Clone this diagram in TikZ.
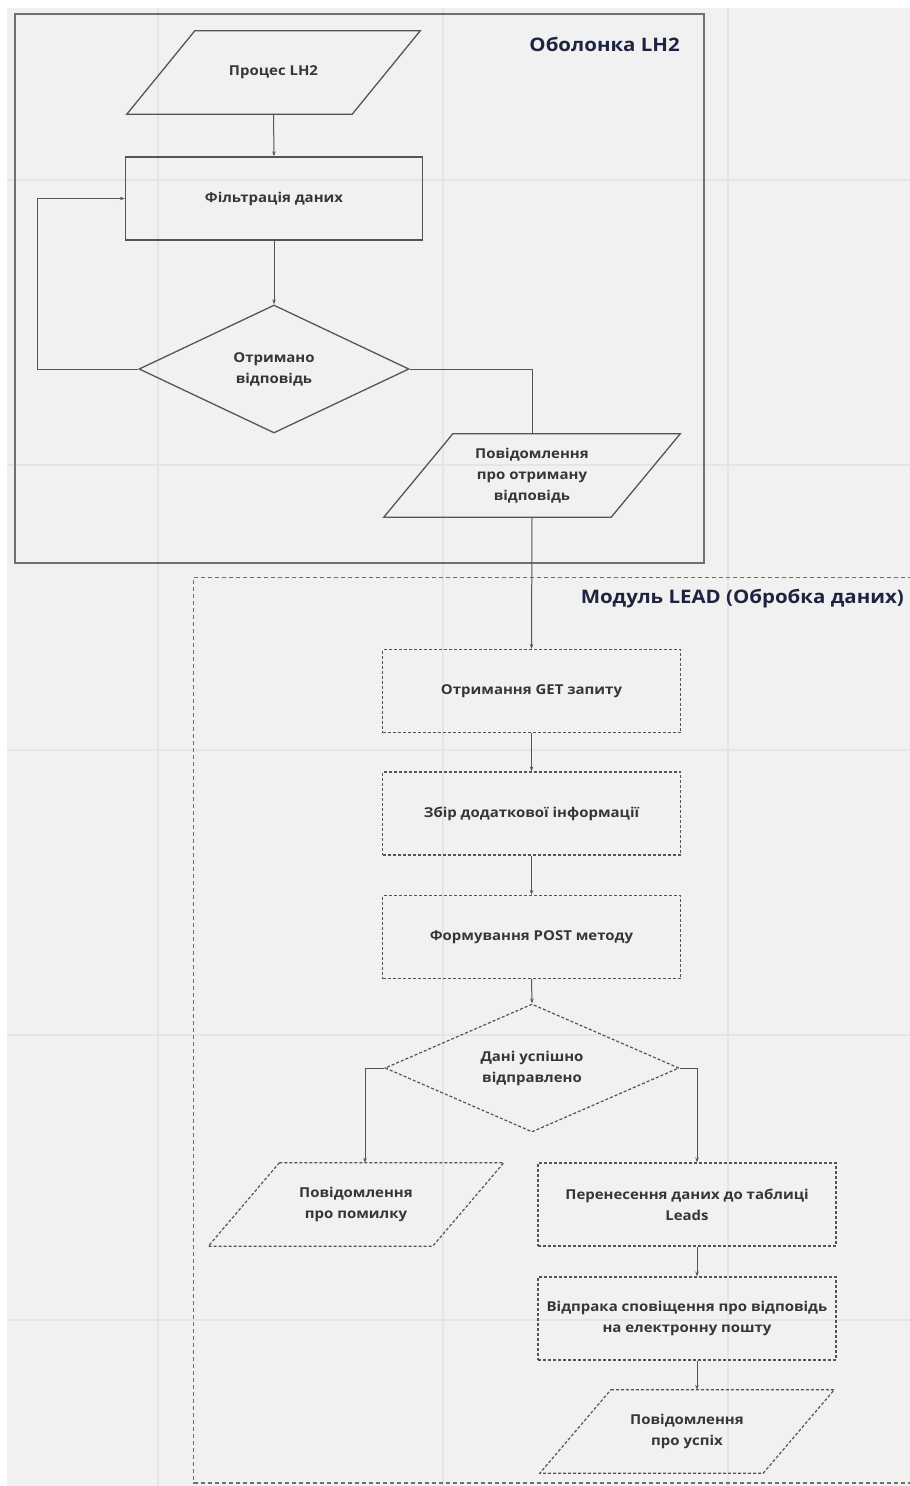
\documentclass[tikz,border=0pt]{standalone}
\usepackage{fontspec}
\setmainfont{Open Sans}[FakeStretch=1.1]
\usetikzlibrary{arrows.meta,calc,shapes.geometric}

\definecolor{pagebg}{HTML}{F1F1F1}
\definecolor{gridln}{HTML}{E5E5E5}
\definecolor{edge}{HTML}{555555}
\definecolor{frame}{HTML}{707070}
\definecolor{label}{HTML}{363636}
\definecolor{heading}{HTML}{1E2440}

\tikzset{
  txt/.style={font=\bfseries\fontsize{13.6}{21}\selectfont, text=label, align=center, inner sep=0pt},
  plainbox/.style={txt, draw=edge, line width=1.3pt, minimum width=298pt, minimum height=83pt},
  dashbox/.style={txt, draw=edge, line width=1.2pt, dash pattern=on 3pt off 2pt, minimum width=298pt, minimum height=83pt},
  ghost/.style={txt, minimum height=83pt},
  decision/.style={diamond, aspect=2.3, inner sep=0pt, minimum height=128pt, txt},
  solidline/.style={draw=edge, line width=1.3pt},
  dashline/.style={draw=edge, line width=1.2pt, dash pattern=on 3pt off 2pt},
  flow/.style={draw=edge, line width=1pt, -{Stealth[length=5pt,width=3.5pt]}},
  link/.style={draw=edge, line width=1pt},
  title/.style={font=\bfseries\fontsize{18.6}{23}\selectfont, text=heading, inner sep=0pt},
}

% parallelogram around a ghost node: #1 node, #2 horizontal shift, #3 line style
\newcommand{\slantbox}[3]{%
  \draw[#3] ($(#1.north west)+(#2,0)$) -- ($(#1.north east)+(#2,0)$)
    -- ($(#1.south east)+(-#2,0)$) -- ($(#1.south west)+(-#2,0)$) -- cycle;}

\begin{document}
\begin{tikzpicture}[x=1pt, y=-1pt]
\useasboundingbox (0,0) rectangle (910,1486);
\fill[white] (0,0) rectangle (910,1486);
\fill[pagebg] (7,8) rectangle (910,1486);

% background grid
\foreach \gx in {158,443,728} \draw[gridln, line width=1.2pt] (\gx,8) -- (\gx,1486);
\foreach \gy in {180,465,750,1035,1320} \draw[gridln, line width=1.2pt] (7,\gy) -- (910,\gy);

% LH2 shell
\draw[frame, line width=2.4pt] (15,14) rectangle (704,563);
\node[title, anchor=east] (shellT) at (680,44) {Оболонка LH2};

\node[ghost, minimum width=225pt] (proc) at (273.5,72.5) {Процес LH2};
\slantbox{proc}{34}{solidline}
\node[plainbox, minimum width=297pt] (filt) at (274,198.5) {Фільтрація даних};
\node[decision, draw=edge, line width=1.3pt, minimum width=270pt] (got) at (274,369) {Отримано\\відповідь};
\node[ghost, minimum width=227pt] (resp) at (532,475.5) {Повідомлення\\про отриману\\відповідь};
\slantbox{resp}{34.5}{solidline}

\coordinate (loopx) at (37,0);
\draw[flow] (proc.south) -- (filt.north);
\draw[flow] (filt.south) -- (got.north);
\draw[flow] (got.west) -- (got.west -| loopx) |- (filt.west);
\draw[link] (got.east) -| (resp.north);

% LEAD module
\draw[frame, line width=1.8pt, dash pattern=on 4pt off 3pt] (912,577.5) -- (193.5,577.5) -- (193.5,1483) -- (912,1483);
\node[title, anchor=east] (leadT) at (904,599) {Модуль LEAD (Обробка даних)};

\node[dashbox] (getq) at (531.5,691) {Отримання GET запиту};
\node[dashbox] (extra) at (531.5,813.5) {Збір додаткової інформації};
\node[dashbox] (post) at (531.5,937) {Формування POST методу};
\node[decision, draw=edge, line width=1.2pt, dash pattern=on 3pt off 2pt, minimum width=294pt] (sent) at (532,1068) {Дані успішно\\відправлено};

\node[ghost, minimum width=224pt] (fail) at (356,1204.5) {Повідомлення\\про помилку};
\slantbox{fail}{35.5}{dashline}
\node[dashbox] (move) at (687,1204.5) {Перенесення даних до таблиці\\Leads};
\node[dashbox] (mail) at (687,1318.5) {Відпрака сповіщення про відповідь\\на електронну пошту};
\node[ghost, minimum width=223pt] (done) at (687,1431.5) {Повідомлення\\про успіх};
\slantbox{done}{35.5}{dashline}

\coordinate (lcol) at (365,0);
\coordinate (rcol) at (697,0);
\draw[flow] (resp.south) -- (getq.north);
\draw[flow] (getq.south) -- (extra.north);
\draw[flow] (extra.south) -- (post.north);
\draw[flow] (post.south) -- (sent.north);
\draw[flow] (sent.west) -| (fail.north -| lcol);
\draw[flow] (sent.east) -| (move.north -| rcol);
\draw[flow] (move.south -| rcol) -- (mail.north -| rcol);
\draw[flow] (mail.south -| rcol) -- (done.north -| rcol);
\end{tikzpicture}
\end{document}
